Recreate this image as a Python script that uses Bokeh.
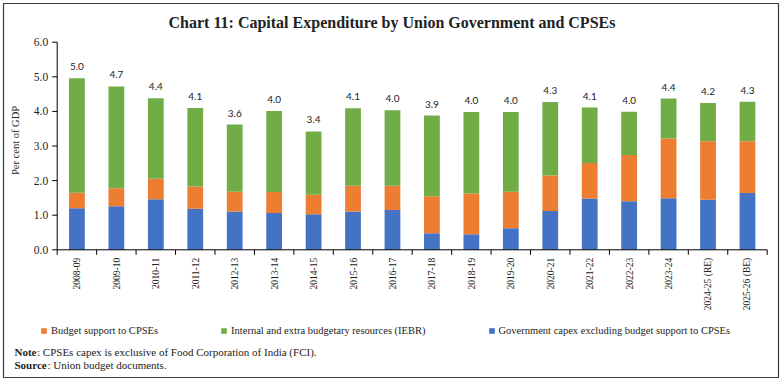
import math
from bokeh.plotting import figure
from bokeh.models import (ColumnDataSource, Range1d, Legend, LegendItem, LabelSet, Label)
from bokeh.core.properties import value
from bokeh.embed import file_html
from bokeh.resources import INLINE

years = ["2008-09", "2009-10", "2010-11", "2011-12", "2012-13", "2013-14", "2014-15",
         "2015-16", "2016-17", "2017-18", "2018-19", "2019-20", "2020-21", "2021-22",
         "2022-23", "2023-24", "2024-25 (RE)", "2025-26 (BE)"]
govt_capex = [1.20, 1.26, 1.46, 1.19, 1.11, 1.06, 1.03, 1.11, 1.15, 0.48, 0.45, 0.62,
              1.12, 1.48, 1.40, 1.49, 1.45, 1.64]
budget_support = [0.45, 0.52, 0.59, 0.64, 0.57, 0.61, 0.56, 0.74, 0.70, 1.07, 1.18, 1.06,
                  1.03, 1.03, 1.34, 1.73, 1.69, 1.50]
iebr = [3.31, 2.94, 2.33, 2.27, 1.94, 2.34, 1.83, 2.24, 2.18, 2.33, 2.35, 2.30,
        2.12, 1.60, 1.25, 1.15, 1.10, 1.14]
y_ticks = [0.0, 1.0, 2.0, 3.0, 4.0, 5.0, 6.0]
y_max = 6.0
title_text = "Chart 11: Capital Expenditure by Union Government and CPSEs"
y_label = "Per cent of GDP"
legend_labels = ["Budget support to CPSEs", "Internal and extra budgetary resources (IEBR)",
                 "Government capex excluding budget support to CPSEs"]
note_text = ": CPSEs capex is exclusive of Food Corporation of India (FCI)."
source_text = ": Union budget documents."

# ---- layout constants (pixels) ----
W, H = 781, 380
PAD = 3                      # frame inset (border box)
AX_L, AX_R = 56.7, 766.7     # plot area left/right
AX_B, AX_T = 249.3, 41.7     # pixel rows of y=0 and y=y_max
n = len(years)
sx = (AX_R - AX_L) / n       # px per category
sy = (AX_B - AX_T) / y_max   # px per unit


def dx(px):
    return (px - AX_L) / sx


def dy(py):
    return (AX_B - py) / sy


serif = "Liberation Serif"
TXT = "#222222"

p = figure(width=W, height=H, output_backend="svg", toolbar_location=None,
           x_range=Range1d(dx(PAD), dx(W - PAD)), y_range=Range1d(dy(H - PAD), dy(PAD)),
           min_border=PAD, x_axis_type=None, y_axis_type=None)
p.outline_line_color = "#3a3a3a"
p.outline_line_width = 1.2
p.background_fill_color = "white"
p.border_fill_color = "white"

xs = [i + 0.5 for i in range(n)]
totals = [a + b + c for a, b, c in zip(govt_capex, budget_support, iebr)]
src = ColumnDataSource(dict(x=xs, govt=govt_capex, budget=budget_support, iebr=iebr,
                            total=totals, lab=[f"{t:.1f}" for t in totals], yr=years))

colors = ["#4472C4", "#ED7D31", "#70AD47"]
rs = p.vbar_stack(["govt", "budget", "iebr"], x="x", width=0.4, source=src,
                  color=colors, line_color=None)

p.add_layout(LabelSet(x="x", y="total", text="lab", source=src, text_align="center",
                      text_baseline="bottom", y_offset=8, text_font=value("Lato"),
                      text_font_size="10px", text_color=TXT))

# ---- axes drawn from the scales ----
tick = 5
p.segment(x0=[0, 0], y0=[0, 0], x1=[n, 0], y1=[0, y_max], line_color="black", line_width=1)
bounds = list(range(n + 1))
p.segment(x0=bounds, y0=[0] * len(bounds), x1=bounds, y1=[-tick / sy] * len(bounds),
          line_color="black", line_width=1)
p.segment(x0=[0] * len(y_ticks), y0=y_ticks, x1=[-tick / sx] * len(y_ticks), y1=y_ticks,
          line_color="black", line_width=1)
p.text(x=[-(tick + 4) / sx] * len(y_ticks), y=y_ticks, text=[f"{t:.1f}" for t in y_ticks],
       text_align="right", text_baseline="middle", text_font=value(serif),
       text_font_size="11.5px", text_color=TXT)
p.text(x="x", y=-8 / sy, text="yr", source=src, angle=math.pi / 2, text_align="right",
       text_baseline="middle", text_font=value(serif), text_font_size="9.5px", text_color=TXT)
p.add_layout(Label(x=dx(15), y=dy(140), text=y_label, angle=math.pi / 2, text_align="center",
                   text_baseline="middle", text_font=serif, text_font_size="10.5px",
                   text_color=TXT))

# ---- title ----
p.add_layout(Label(x=dx(W / 2 + 1), y=dy(22), text=title_text, text_align="center",
                   text_baseline="middle", text_font=serif, text_font_style="bold",
                   text_font_size="16px", text_color=TXT))

# ---- legend ----
items = [LegendItem(label=legend_labels[0], renderers=[rs[1]]),
         LegendItem(label=legend_labels[1], renderers=[rs[2]]),
         LegendItem(label=legend_labels[2], renderers=[rs[0]])]
leg = Legend(items=items, orientation="horizontal", location=(40 - PAD, (H - PAD) - 336),
             spacing=62, padding=0, margin=0, border_line_color=None,
             background_fill_alpha=0, glyph_width=7, glyph_height=7, label_height=12,
             label_text_font=serif, label_text_font_size="10.5px",
             label_text_color=TXT, label_standoff=4, label_text_baseline="middle")
p.add_layout(leg, "center")

# ---- notes ----
def note(bold, rest, py, bold_w):
    p.add_layout(Label(x=dx(14), y=dy(py), text=bold, text_font=serif, text_font_style="bold",
                       text_font_size="11px", text_baseline="middle", text_color=TXT))
    p.add_layout(Label(x=dx(14 + bold_w), y=dy(py), text=rest, text_font=serif,
                       text_font_size="11px", text_baseline="middle", text_color=TXT))


note("Note", note_text, 351, 22.5)
note("Source", source_text, 364, 33)

open("out.html", "w").write(file_html(p, INLINE))
